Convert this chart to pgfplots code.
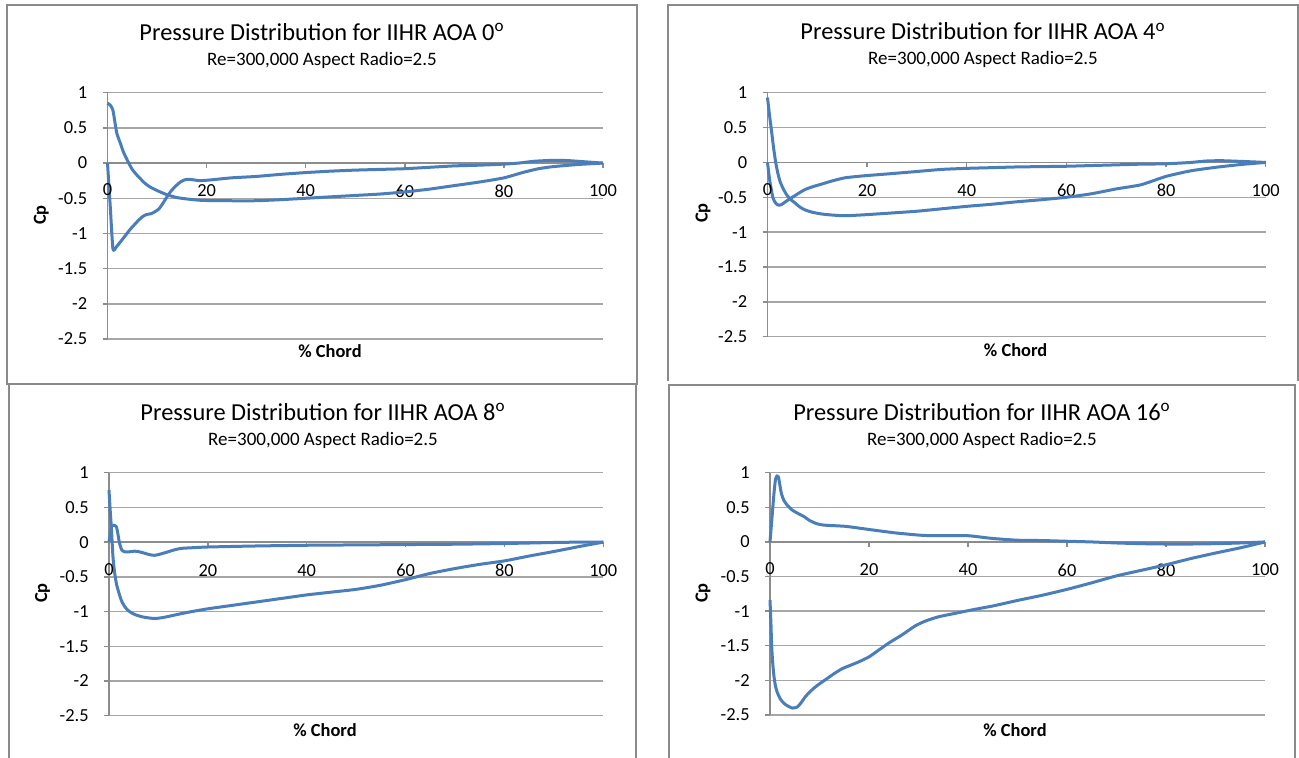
\documentclass[border=0pt]{standalone}
\usepackage{pgfplots}
\pgfplotsset{compat=1.18}
\usepackage{fontspec}
\setmainfont{Carlito}
\definecolor{exblue}{HTML}{4A7EBB}
\definecolor{gridc}{HTML}{A6A6A6}
\definecolor{axisc}{HTML}{8C8C8C}
\definecolor{framec}{HTML}{8A8A8A}
\newcommand{\tickfont}{\fontsize{9.2}{10}\selectfont}
\pgfplotsset{
  cpstyle/.style={
    anchor=south west, scale only axis,
    xmin=0, xmax=100, ymin=-2.5, ymax=1,
    axis x line=middle, axis y line=left,
    x axis line style={-, axisc, line width=0.7pt},
    y axis line style={-, axisc, line width=0.7pt},
    xtick={0,20,40,60,80,100}, xticklabels={0,20,40,60,80,100},
    ytick={-2.5,-2,-1.5,-1,-0.5,0,0.5,1},
    yticklabels={-2.5,-2,-1.5,-1,-0.5,0,0.5,1},
    ymajorgrids, grid style={gridc, line width=0.7pt},
    tick style={axisc, line width=0.7pt},
    major tick length=2.5pt, tick align=outside,
    xticklabel style={font=\tickfont, anchor=center, yshift=-11.5pt},
    yticklabel style={font=\tickfont, anchor=east, inner sep=0pt, xshift=-7.5pt},
    clip=false,
  },
  cpline/.style={exblue, line width=1.5pt, smooth, tension=0.35, no marks, line join=round},
}
\newcommand{\zerolabel}{\node[font=\tickfont, anchor=center, inner sep=0pt, yshift=-13.5pt] at (axis cs:0,0) {0};}
\begin{document}
\begin{tikzpicture}
\useasboundingbox (0,0) rectangle (649.5pt,378.5pt);
\fill[white] (0,0) rectangle (649.5pt,378.5pt);
% frames
\draw[framec, line width=1pt] (3.35pt,186.5pt) rectangle (318.35pt,376.15pt);
\draw[framec, line width=1pt] (333.85pt,188.15pt) -- (333.85pt,376.15pt) -- (648.85pt,376.15pt) -- (648.85pt,188.15pt);
\draw[framec, line width=1pt] (4.65pt,-3pt) -- (4.65pt,186.5pt) -- (317.85pt,186.5pt) -- (317.85pt,-3pt);
\draw[framec, line width=1pt] (334.65pt,-3pt) -- (334.65pt,186pt) -- (647.5pt,186pt) -- (647.5pt,-3pt);
% titles
\begin{scope}[every node/.style={inner sep=0pt}]
\node[anchor=base, font=\fontsize{12.2}{13}\selectfont] at (161pt,358.15pt) {Pressure Distribution for IIHR AOA 0\textsuperscript{o}};
\node[anchor=base, font=\fontsize{9.5}{11}\selectfont] at (161pt,345.65pt) {Re=300,000 Aspect Radio=2.5};
\node[anchor=base, font=\bfseries\fontsize{9.2}{10}\selectfont] at (165pt,199.85pt) {\% Chord};
\node[rotate=90, font=\bfseries\fontsize{9.2}{10}\selectfont] at (20.7pt,271pt) {Cp};

\node[anchor=base, font=\fontsize{12.2}{13}\selectfont] at (491.5pt,358.5pt) {Pressure Distribution for IIHR AOA 4\textsuperscript{o}};
\node[anchor=base, font=\fontsize{9.5}{11}\selectfont] at (491.5pt,346pt) {Re=300,000 Aspect Radio=2.5};
\node[anchor=base, font=\bfseries\fontsize{9.2}{10}\selectfont] at (507.8pt,200.5pt) {\% Chord};
\node[rotate=90, font=\bfseries\fontsize{9.2}{10}\selectfont] at (351.5pt,272pt) {Cp};

\node[anchor=base, font=\fontsize{12.2}{13}\selectfont] at (161.5pt,168.15pt) {Pressure Distribution for IIHR AOA 8\textsuperscript{o}};
\node[anchor=base, font=\fontsize{9.5}{11}\selectfont] at (161.5pt,155.65pt) {Re=300,000 Aspect Radio=2.5};
\node[anchor=base, font=\bfseries\fontsize{9.2}{10}\selectfont] at (162.5pt,10.5pt) {\% Chord};
\node[rotate=90, font=\bfseries\fontsize{9.2}{10}\selectfont] at (21.3pt,82pt) {Cp};

\node[anchor=base, font=\fontsize{12.2}{13}\selectfont] at (491pt,168.15pt) {Pressure Distribution for IIHR AOA 16\textsuperscript{o}};
\node[anchor=base, font=\fontsize{9.5}{11}\selectfont] at (491pt,155.65pt) {Re=300,000 Aspect Radio=2.5};
\node[anchor=base, font=\bfseries\fontsize{9.2}{10}\selectfont] at (507.5pt,10.5pt) {\% Chord};
\node[rotate=90, font=\bfseries\fontsize{9.2}{10}\selectfont] at (351.5pt,82pt) {Cp};
\end{scope}

% ---------- AOA 0 ----------
\begin{axis}[cpstyle, at={(53.75pt,209pt)}, width=247.75pt, height=123.15pt]
\addplot[cpline] coordinates {
(0,0.85) (0.6,0.82) (1.1,0.75) (1.5,0.58) (1.9,0.42) (2.6,0.28) (3.2,0.16) (4,0.04)
(4.9,-0.08) (5.8,-0.16) (6.6,-0.22) (7.6,-0.29) (8.6,-0.34) (10,-0.39) (12,-0.45)
(14,-0.49) (16,-0.51) (19,-0.53) (24,-0.535) (30,-0.535) (35,-0.52) (40,-0.50)
(45,-0.48) (50,-0.46) (55,-0.44) (60,-0.41) (65,-0.37) (70,-0.32) (75,-0.27)
(80,-0.21) (84,-0.13) (87,-0.08) (90,-0.05) (95,-0.02) (100,0)};
\addplot[cpline] coordinates {
(0,0) (0.55,-0.61) (1.1,-1.22) (1.8,-1.19) (2.6,-1.12) (3.6,-1.03) (4.6,-0.94)
(5.5,-0.87) (6.3,-0.81) (7.1,-0.76) (7.9,-0.73) (8.8,-0.72) (9.6,-0.69) (10.4,-0.65)
(11.2,-0.57) (12,-0.48) (12.8,-0.40) (13.7,-0.33) (14.7,-0.27) (15.5,-0.24)
(16.4,-0.23) (17.5,-0.24) (18.7,-0.25) (20.7,-0.24) (25,-0.21) (30,-0.19)
(35,-0.16) (40,-0.135) (45,-0.115) (50,-0.10) (55,-0.09) (60,-0.08) (65,-0.06)
(70,-0.04) (75,-0.03) (80,-0.015) (83,0) (86,0.025) (90,0.04) (93,0.035) (96,0.02) (100,0)};
\zerolabel
\end{axis}

% ---------- AOA 4 ----------
\begin{axis}[cpstyle, at={(383.75pt,210.15pt)}, width=249.1pt, height=122pt]
\addplot[cpline] coordinates {
(0,0.93) (0.4,0.68) (0.81,0.45) (1.2,0.22) (1.6,0.02) (2.0,-0.13) (2.5,-0.27)
(3.1,-0.37) (3.8,-0.46) (4.6,-0.53) (5.5,-0.58) (6.5,-0.64) (7.5,-0.68) (9,-0.715)
(10.9,-0.74) (13,-0.755) (15.6,-0.765) (19.7,-0.75) (25,-0.725) (30,-0.70)
(35,-0.665) (40,-0.63) (45,-0.60) (50,-0.565) (55,-0.535) (60,-0.50) (65,-0.45)
(70,-0.38) (75,-0.32) (80,-0.20) (85,-0.12) (90,-0.07) (95,-0.03) (100,0)};
\addplot[cpline] coordinates {
(0,0) (0.47,-0.27) (1.1,-0.51) (1.7,-0.59) (2.3,-0.615) (2.9,-0.60) (3.5,-0.57)
(4.3,-0.53) (5.2,-0.49) (6.3,-0.44) (7.5,-0.39) (9,-0.35) (10.9,-0.31) (13,-0.265)
(15.6,-0.22) (19.7,-0.19) (25,-0.16) (30,-0.13) (35,-0.10) (40,-0.085) (45,-0.075)
(50,-0.065) (55,-0.06) (60,-0.055) (65,-0.045) (70,-0.035) (75,-0.025) (80,-0.02)
(85,0.0) (88,0.02) (91,0.025) (95,0.015) (100,0)};
\zerolabel
\end{axis}

% ---------- AOA 8 ----------
\begin{axis}[cpstyle, at={(54.5pt,20.65pt)}, width=247.15pt, height=121.5pt]
\addplot[cpline] coordinates {
(0,0.75) (0.25,0.45) (0.47,0.22) (0.8,-0.21) (1.1,-0.42) (1.5,-0.60) (2,-0.73)
(2.5,-0.84) (3.1,-0.92) (3.8,-0.98) (4.6,-1.02) (5.5,-1.05) (7,-1.08) (9.2,-1.10)
(11,-1.085) (13.3,-1.05) (16,-1.01) (20,-0.96) (25,-0.91) (30,-0.86) (35,-0.81)
(40,-0.76) (45,-0.72) (50,-0.68) (55,-0.62) (60,-0.54) (65,-0.45) (70,-0.38)
(75,-0.32) (80,-0.27) (85,-0.20) (90,-0.135) (95,-0.065) (100,0)};
\addplot[cpline] coordinates {
(0,0) (0.25,0.12) (0.5,0.22) (1,0.245) (1.5,0.22) (1.8,0.12) (2,0.03) (2.3,-0.06)
(2.6,-0.115) (3.2,-0.14) (4,-0.14) (5.2,-0.13) (6.2,-0.14) (7.2,-0.16) (8.2,-0.18)
(9.2,-0.19) (10.5,-0.17) (11.9,-0.14) (13.3,-0.11) (14.6,-0.09) (17,-0.08) (20,-0.07)
(30,-0.055) (40,-0.045) (50,-0.04) (60,-0.035) (70,-0.03) (80,-0.02) (90,-0.005)
(95,0) (100,0)};
\zerolabel
\end{axis}

% ---------- AOA 16 ----------
\begin{axis}[cpstyle, at={(385pt,21pt)}, width=247.5pt, height=121.15pt]
\addplot[cpline] coordinates {
(0,0) (0.4,0.35) (0.8,0.70) (1.1,0.90) (1.4,0.955) (1.7,0.94) (2.0,0.82) (2.3,0.70)
(2.8,0.60) (3.5,0.53) (4.5,0.46) (5.7,0.41) (6.9,0.365) (8,0.31) (9.2,0.27)
(10.2,0.25) (11.5,0.24) (15.3,0.225) (20,0.18) (25.4,0.13) (30.8,0.095) (35,0.09)
(40,0.09) (45,0.05) (50,0.025) (55,0.02) (60,0.01) (65,0.0) (70,-0.015) (75,-0.025)
(80,-0.03) (85,-0.03) (90,-0.025) (95,-0.015) (100,0)};
\addplot[cpline] coordinates {
(0,-0.84) (0.2,-1.2) (0.34,-1.51) (0.55,-1.75) (0.8,-1.94) (1.1,-2.08) (1.5,-2.18)
(2.1,-2.27) (2.8,-2.33) (3.6,-2.37) (4.5,-2.40) (5.5,-2.385) (6.3,-2.32) (7.2,-2.23)
(8.0,-2.17) (8.9,-2.11) (10,-2.05) (11.2,-1.99) (13,-1.90) (14.6,-1.83) (16.3,-1.78)
(18,-1.73) (20,-1.66) (22,-1.56) (24,-1.46) (26.5,-1.35) (29.4,-1.21) (31.5,-1.14)
(34.1,-1.08) (37.5,-1.03) (40.9,-0.98) (45,-0.925) (50,-0.845) (55,-0.77) (60,-0.685)
(65,-0.59) (70,-0.49) (75,-0.41) (80,-0.33) (85,-0.24) (90,-0.16) (95,-0.085) (100,0)};
\zerolabel
\end{axis}
\end{tikzpicture}
\end{document}
